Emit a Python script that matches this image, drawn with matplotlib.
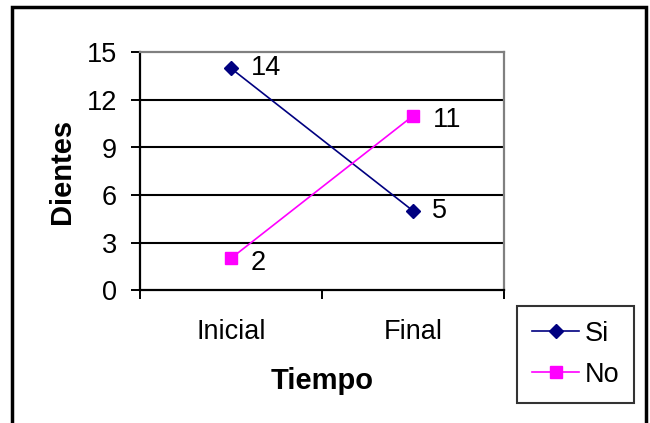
import matplotlib.pyplot as plt
from matplotlib.patches import Rectangle

plt.rcParams['font.family'] = ['Liberation Sans', 'DejaVu Sans']

# data
tiempos = ['Inicial', 'Final']
si_vals = [14, 5]
no_vals = [2, 11]
y_ticks = [0, 3, 6, 9, 12, 15]

FS = 19.5

fig = plt.figure(figsize=(6.5, 4.23), dpi=100)
ax = fig.add_axes([140 / 650, 1 - 290 / 423, 364 / 650, 237.5 / 423])

x = [i + 0.5 for i in range(len(tiempos))]

# horizontal gridlines
for t in y_ticks[1:-1]:
    ax.axhline(t, color='black', lw=1.5, zorder=1)

ax.plot(x, si_vals, color='#000080', lw=1.2, marker='D', ms=7,
        label='Si', zorder=3)
ax.plot(x, no_vals, color='#FF00FF', lw=1.2, marker='s', ms=8,
        label='No', zorder=3)

# value labels
for xi, v in zip(x, si_vals):
    ax.annotate(str(v), (xi, v), xytext=(14, 0), textcoords='offset points',
                ha='left', va='center', fontsize=FS)
for xi, v in zip(x, no_vals):
    ax.annotate(str(v), (xi, v), xytext=(14, -3), textcoords='offset points',
                ha='left', va='center', fontsize=FS)

ax.set_xlim(0, 2)
ax.set_ylim(0, 15)
ax.set_yticks(y_ticks)
ax.set_xticks([0, 1, 2])
ax.set_xticklabels([])
ax.set_xticks(x, minor=True)
ax.set_xticklabels(tiempos, minor=True, fontsize=FS)
ax.tick_params(axis='x', which='minor', length=0, pad=21)
ax.tick_params(axis='x', which='major', length=6.5, width=1.4, direction='out')
ax.tick_params(axis='y', length=6.5, width=1.4, direction='out', labelsize=FS, pad=10)

ax.spines['left'].set_linewidth(1.6)
ax.spines['bottom'].set_linewidth(1.6)
ax.spines['top'].set_color('#808080')
ax.spines['right'].set_color('#808080')
ax.spines['top'].set_linewidth(1.6)
ax.spines['right'].set_linewidth(1.6)

ax.set_ylabel('Dientes', fontsize=21, fontweight='bold', labelpad=8)
ax.set_xlabel('Tiempo', fontsize=21, fontweight='bold', labelpad=16)

leg = ax.legend(loc='upper left', bbox_to_anchor=(517 / 650, 1 - 306 / 423),
                bbox_transform=fig.transFigure, fontsize=FS, frameon=True,
                fancybox=False, edgecolor='black', handlelength=1.75,
                handletextpad=0.2, labelspacing=0.55, borderpad=0.55,
                borderaxespad=0)
leg.get_frame().set_linewidth(1.5)

# chart border
fig.patches.append(Rectangle((12 / 650, -0.1), 634 / 650, 1.1 - 7 / 423,
                             transform=fig.transFigure, fill=False,
                             edgecolor='black', lw=2.5))

fig.savefig('out.png', dpi=100)
